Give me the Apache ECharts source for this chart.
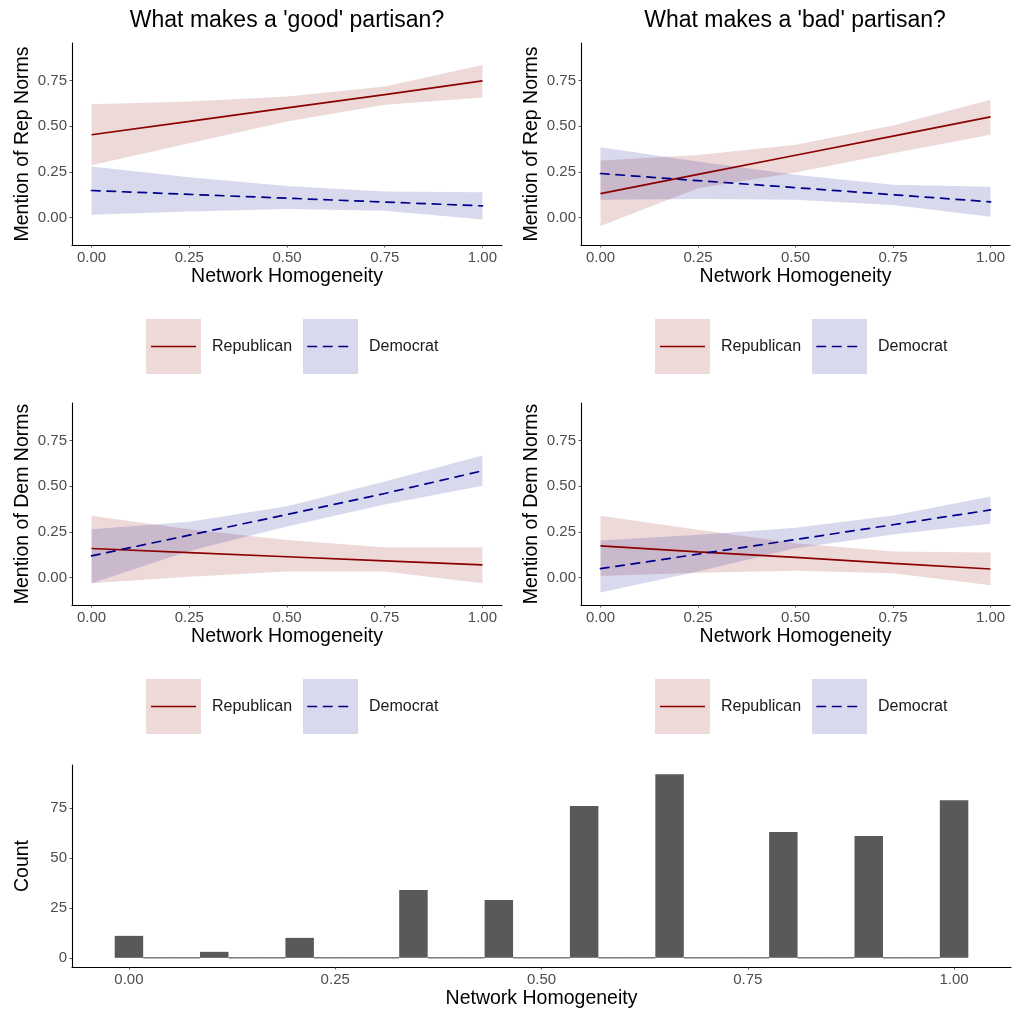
<!DOCTYPE html>
<html>
<head>
<meta charset="utf-8">
<title>Good and bad partisans by network homogeneity</title>
<script src="https://cdn.jsdelivr.net/npm/echarts@6/dist/echarts.min.js"></script>
<style>
  html, body { margin: 0; padding: 0; background: #fff; }
  #chart { width: 1014px; height: 1013px; }
</style>
</head>
<body>
<div id="chart"></div>
<script>
// predicted share mentioning a norm, read at these homogeneity values
const xs = [0, 0.25, 0.5, 0.75, 1];

// good partisan / Rep norms
const goodRepRFit = [0.453, 0.526, 0.600, 0.673, 0.748];
const goodRepRLo  = [0.286, 0.407, 0.526, 0.617, 0.657];
const goodRepRHi  = [0.620, 0.635, 0.662, 0.717, 0.834];
const goodRepDFit = [0.148, 0.127, 0.106, 0.085, 0.064];
const goodRepDLo  = [0.015, 0.033, 0.047, 0.038, -0.011];
const goodRepDHi  = [0.279, 0.221, 0.173, 0.142, 0.139];

// bad partisan / Rep norms
const badRepRFit = [0.131, 0.236, 0.341, 0.446, 0.551];
const badRepRLo  = [-0.046, 0.160, 0.246, 0.352, 0.453];
const badRepRHi  = [0.312, 0.343, 0.398, 0.504, 0.644];
const badRepDFit = [0.241, 0.202, 0.164, 0.125, 0.086];
const badRepDLo  = [0.097, 0.102, 0.097, 0.069, 0.005];
const badRepDHi  = [0.385, 0.307, 0.234, 0.179, 0.168];

// good partisan / Dem norms
const goodDemRFit = [0.159, 0.137, 0.114, 0.091, 0.069];
const goodDemRLo  = [-0.031, 0.005, 0.033, 0.033, -0.031];
const goodDemRHi  = [0.338, 0.265, 0.206, 0.166, 0.166];
const goodDemDFit = [0.119, 0.232, 0.345, 0.460, 0.584];
const goodDemDLo  = [-0.031, 0.145, 0.280, 0.400, 0.502];
const goodDemDHi  = [0.265, 0.305, 0.390, 0.525, 0.668];

// bad partisan / Dem norms
const badDemRFit = [0.173, 0.141, 0.110, 0.078, 0.047];
const badDemRLo  = [0.009, 0.027, 0.038, 0.024, -0.042];
const badDemRHi  = [0.338, 0.261, 0.188, 0.142, 0.137];
const badDemDFit = [0.049, 0.128, 0.208, 0.289, 0.370];
const badDemDLo  = [-0.082, 0.033, 0.160, 0.235, 0.294];
const badDemDHi  = [0.203, 0.234, 0.272, 0.340, 0.443];

// histogram of network homogeneity (30 bins)
const binCenters = [0.0000, 0.0345, 0.0690, 0.1034, 0.1379, 0.1724, 0.2069, 0.2414, 0.2759, 0.3103,
                    0.3448, 0.3793, 0.4138, 0.4483, 0.4828, 0.5172, 0.5517, 0.5862, 0.6207, 0.6552,
                    0.6897, 0.7241, 0.7586, 0.7931, 0.8276, 0.8621, 0.8966, 0.9310, 0.9655, 1.0000];
const binCounts = [11, 0, 0, 3, 0, 0, 10, 0, 0, 0,
                   34, 0, 0, 29, 0, 0, 76, 0, 0, 92,
                   0, 0, 0, 63, 0, 0, 61, 0, 0, 79];
const binWidth = 0.0345;

const xTicks = [0, 0.25, 0.5, 0.75, 1];
const yTicks = [0, 0.25, 0.5, 0.75];
const countTicks = [0, 25, 50, 75];

const titles = ["What makes a 'good' partisan?", "What makes a 'bad' partisan?"];
const groups = ['Republican', 'Democrat'];

const RED = '#8B0000', BLUE = '#00008B';
const RED_FILL = 'rgba(139,0,0,0.15)', BLUE_FILL = 'rgba(0,0,139,0.15)';
const FONT = 'Liberation Sans, Arial, sans-serif';

const chart = echarts.init(document.getElementById('chart'));

const grids = [
  { left: 72, top: 43, width: 430, height: 202 },
  { left: 581, top: 43, width: 429, height: 202 },
  { left: 72, top: 403, width: 430, height: 202 },
  { left: 581, top: 403, width: 429, height: 202 },
  { left: 72, top: 765, width: 939, height: 202 }
].map(g => Object.assign({ outerBoundsMode: 'none', containLabel: false }, g));

function xAxisFor(i, min, max, ticks) {
  return {
    type: 'value', gridIndex: i, min: min, max: max,
    name: 'Network Homogeneity', nameLocation: 'middle', nameGap: 22, nameMoveOverlap: false,
    nameTextStyle: { fontFamily: FONT, fontSize: 19.5, color: '#000' },
    axisLine: { onZero: false, lineStyle: { color: '#000', width: 1.1 } },
    axisTick: { show: true, length: 2.5, customValues: ticks, lineStyle: { color: '#333', width: 0.8 } },
    axisLabel: { customValues: ticks, margin: 5, fontFamily: FONT, fontSize: 15, color: '#4d4d4d',
                 formatter: v => v.toFixed(2) },
    splitLine: { show: false }
  };
}

function yAxisFor(i, name, min, max, ticks, fmt) {
  return {
    type: 'value', gridIndex: i, min: min, max: max,
    name: name, nameLocation: 'middle', nameGap: 39, nameMoveOverlap: false,
    nameTextStyle: { fontFamily: FONT, fontSize: 19.5, color: '#000' },
    axisLine: { show: true, onZero: false, lineStyle: { color: '#000', width: 1.1 } },
    axisTick: { show: true, length: 2.5, customValues: ticks, lineStyle: { color: '#333', width: 0.8 } },
    axisLabel: { customValues: ticks, margin: 5, fontFamily: FONT, fontSize: 15, color: '#4d4d4d',
                 formatter: fmt },
    splitLine: { show: false }
  };
}

function band(i, lo, hi, fill) {
  return {
    type: 'custom', xAxisIndex: i, yAxisIndex: i, silent: true, z: 1,
    data: xs.map((x, k) => [x, lo[k], hi[k]]),
    renderItem: function (params, api) {
      if (params.dataIndex !== 0) return null;
      const pts = [];
      for (let k = 0; k < xs.length; k++) pts.push(api.coord([xs[k], hi[k]]));
      for (let k = xs.length - 1; k >= 0; k--) pts.push(api.coord([xs[k], lo[k]]));
      return { type: 'polygon', shape: { points: pts }, style: { fill: fill } };
    }
  };
}

function fitLine(i, fit, color, dashed) {
  return {
    type: 'line', xAxisIndex: i, yAxisIndex: i, silent: true, z: 3,
    showSymbol: false, symbol: 'none',
    data: xs.map((x, k) => [x, fit[k]]),
    lineStyle: { color: color, width: 1.7, type: dashed ? [8.5, 7] : 'solid', cap: dashed ? 'round' : 'butt' }
  };
}

const panels = [
  [goodRepRFit, goodRepRLo, goodRepRHi, goodRepDFit, goodRepDLo, goodRepDHi],
  [badRepRFit, badRepRLo, badRepRHi, badRepDFit, badRepDLo, badRepDHi],
  [goodDemRFit, goodDemRLo, goodDemRHi, goodDemDFit, goodDemDLo, goodDemDHi],
  [badDemRFit, badDemRLo, badDemRHi, badDemDFit, badDemDLo, badDemDHi]
];
const yNames = ['Mention of Rep Norms', 'Mention of Rep Norms', 'Mention of Dem Norms', 'Mention of Dem Norms'];

const xAxes = [], yAxes = [], series = [];
panels.forEach((p, i) => {
  xAxes.push(xAxisFor(i, -0.05, 1.05, xTicks));
  yAxes.push(yAxisFor(i, yNames[i], -0.15, 0.955, yTicks, v => v.toFixed(2)));
  series.push(band(i, p[1], p[2], RED_FILL));
  series.push(band(i, p[4], p[5], BLUE_FILL));
  series.push(fitLine(i, p[0], RED, false));
  series.push(fitLine(i, p[3], BLUE, true));
});

// histogram
xAxes.push(xAxisFor(4, -0.069, 1.069, xTicks));
yAxes.push(yAxisFor(4, 'Count', -4.6, 96.6, countTicks, v => String(v)));
series.push({
  type: 'custom', xAxisIndex: 4, yAxisIndex: 4, silent: true,
  data: binCenters.map((c, k) => [c, binCounts[k]]),
  renderItem: function (params, api) {
    const c = api.value(0), n = api.value(1);
    const a = api.coord([c - binWidth / 2, n]);
    const b = api.coord([c + binWidth / 2, 0]);
    if (n === 0) {
      return { type: 'line', shape: { x1: a[0], y1: b[1], x2: b[0], y2: b[1] },
               style: { stroke: '#595959', lineWidth: 1.2 } };
    }
    return { type: 'rect', shape: { x: a[0], y: a[1], width: b[0] - a[0], height: b[1] - a[1] },
             style: { fill: '#595959' } };
  }
});

// legends under each panel row
function legendGroup(x0, y0) {
  const keys = [
    { x: x0, fill: RED_FILL, stroke: RED, dash: null, label: groups[0] },
    { x: x0 + 157, fill: BLUE_FILL, stroke: BLUE, dash: [8.5, 7], label: groups[1] }
  ];
  const els = [];
  keys.forEach(k => {
    els.push({ type: 'rect', shape: { x: k.x, y: y0, width: 55, height: 55 }, style: { fill: k.fill } });
    els.push({ type: 'line', shape: { x1: k.x + 5, y1: y0 + 27.5, x2: k.x + 50, y2: y0 + 27.5 },
               style: { stroke: k.stroke, lineWidth: 1.7, lineDash: k.dash, lineCap: k.dash ? 'round' : 'butt' } });
    els.push({ type: 'text', x: k.x + 66, y: y0 + 27.5,
               style: { text: k.label, fontFamily: FONT, fontSize: 16, fill: '#1a1a1a', verticalAlign: 'middle' } });
  });
  return els;
}

const graphic = [].concat(
  legendGroup(146, 319), legendGroup(655, 319),
  legendGroup(146, 679), legendGroup(655, 679)
);

chart.setOption({
  backgroundColor: '#fff',
  animation: false,
  title: [
    { text: titles[0], left: 287, top: 9, textAlign: 'center', padding: 0,
      textStyle: { fontFamily: FONT, fontSize: 23, fontWeight: 'normal', color: '#000' } },
    { text: titles[1], left: 795, top: 9, textAlign: 'center', padding: 0,
      textStyle: { fontFamily: FONT, fontSize: 23, fontWeight: 'normal', color: '#000' } }
  ],
  grid: grids,
  xAxis: xAxes,
  yAxis: yAxes,
  series: series,
  graphic: graphic
});

window.addEventListener('resize', function () {
  chart.resize();
});
</script>
</body>
</html>
